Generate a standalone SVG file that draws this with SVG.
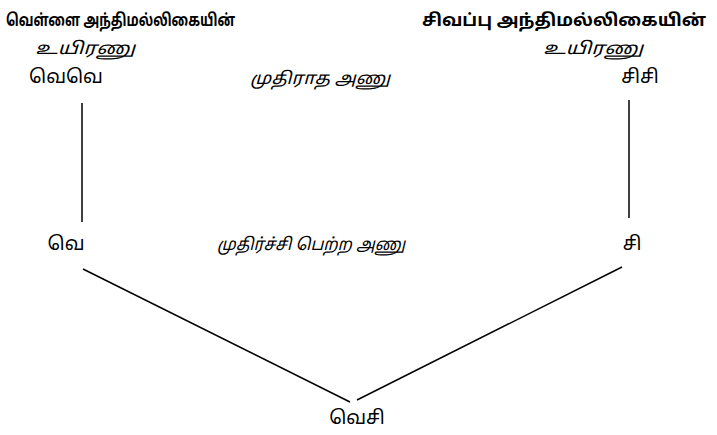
<svg xmlns="http://www.w3.org/2000/svg" width="717" height="435" viewBox="0 0 717 435">
<style>
text{font-family:"Noto Sans Tamil","Lohit Tamil","Noto Sans","DejaVu Sans",sans-serif;fill:#000}
.h{font-size:17px;font-weight:bold}
.i{font-size:17px;font-style:italic}
.n{font-size:19px}
.c line{stroke:#000;stroke-width:1.5;fill:none}
</style>
<rect width="717" height="435" fill="#fff"/>
<g class="c" id="connectors">
<line x1="82" y1="103" x2="82" y2="222"/>
<line x1="629" y1="100" x2="629" y2="218"/>
<line x1="83" y1="269" x2="350" y2="402"/>
<line x1="357" y1="400" x2="622" y2="267"/>
</g>
<g id="n1"><text class="h" x="6" y="26" textLength="229" lengthAdjust="spacingAndGlyphs">வெள்ளை அந்திமல்லிகையின்</text>
<text class="i" x="35" y="54" textLength="100" lengthAdjust="spacingAndGlyphs">உயிரணு</text>
<text class="n" x="66" y="83" text-anchor="middle">வெவெ</text></g>
<g id="n2"><text class="h" x="422" y="26" textLength="284" lengthAdjust="spacingAndGlyphs">சிவப்பு அந்திமல்லிகையின்</text>
<text class="i" x="543" y="54" textLength="100" lengthAdjust="spacingAndGlyphs">உயிரணு</text>
<text class="n" x="640" y="83" text-anchor="middle">சிசி</text></g>
<g id="lbl1"><text class="i" x="250" y="84" textLength="140" lengthAdjust="spacingAndGlyphs">முதிராத அணு</text></g>
<g id="n3"><text class="n" x="66" y="250" text-anchor="middle">வெ</text></g>
<g id="lbl2"><text class="i" x="217" y="250" textLength="188" lengthAdjust="spacingAndGlyphs">முதிர்ச்சி பெற்ற அணு</text></g>
<g id="n4"><text class="n" x="632" y="250" text-anchor="middle">சி</text></g>
<g id="n5"><text class="n" x="357" y="424" text-anchor="middle">வெசி</text></g>
</svg>
